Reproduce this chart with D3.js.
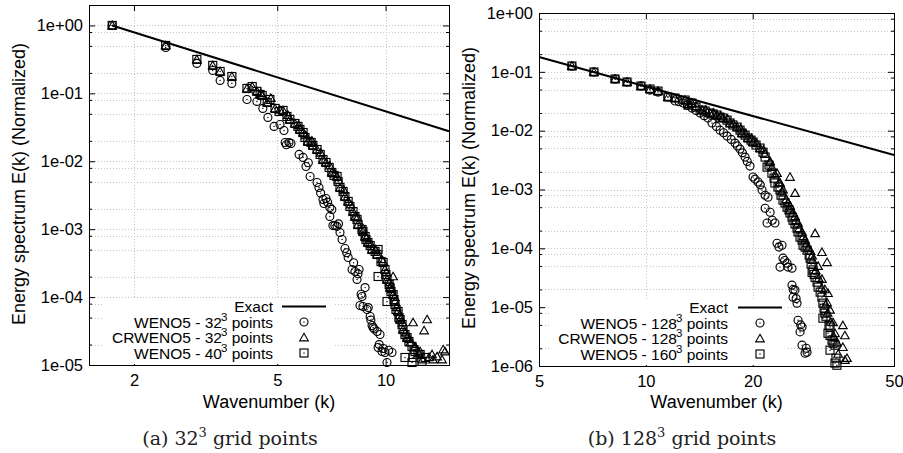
<!DOCTYPE html>
<html>
<head>
<meta charset="utf-8">
<script src="https://cdn.jsdelivr.net/npm/d3@7"></script>
<style>
    body { margin: 0; background: #fff; }
    svg { display: block; }
</style>
</head>
<body>
<div id="chart"></div>
<script>
// Canvas
const width = 903
const height = 453
const sans = "'Liberation Sans', Arial, Helvetica, sans-serif"
const serif = "'DejaVu Serif', 'Liberation Serif', serif"

// ---------- Data: panel (a), 32^3 ----------
const aXTicks = [2, 5, 10]
const aXLabels = ['2', '5', '10']
const aYTicks = [1e-5, 1e-4, 1e-3, 1e-2, 1e-1, 1]
const aYLabels = ['1e-05', '1e-04', '1e-03', '1e-02', '1e-01', '1e+00']
const aExactK = [1.74, 15]
const aExactE = [1.0, 0.0277]

const aWeno32 = [
    [1.74, 1.0], [2.45, 0.474], [2.99, 0.276], [3.31, 0.217], [3.47, 0.155], [3.74, 0.140],
    [4.12, 0.0813], [4.39, 0.076], [4.56, 0.060], [4.71, 0.0442], [4.90, 0.0326], [5.09, 0.0348],
    [5.22, 0.0284], [5.26, 0.0189], [5.39, 0.0189], [5.46, 0.0183], [5.75, 0.0126], [5.90, 0.0114],
    [6.01, 0.00838], [6.17, 0.00597], [6.45, 0.00487], [6.53, 0.00411], [6.70, 0.00274], [6.74, 0.00239],
    [6.83, 0.00283], [7.00, 0.00209], [7.00, 0.00154], [7.09, 0.00195], [7.14, 0.00113], [7.23, 0.00113],
    [7.33, 0.0011], [7.47, 0.000893], [7.57, 0.000705], [7.71, 0.00052], [7.87, 0.000383], [8.07, 0.000255],
    [8.22, 0.000238], [8.33, 0.000182], [8.44, 0.000255], [8.49, 7.52e-5], [8.60, 1.02e-4], [8.65, 7.27e-5],
    [8.77, 1.38e-4], [8.88, 6.57e-5], [9.06, 5.18e-5], [9.17, 3.82e-5], [9.23, 3.57e-5], [9.47, 3.11e-5],
    [9.53, 1.81e-5], [9.65, 2.81e-5], [9.77, 1.58e-5], [9.96, 1.53e-5], [10.09, 1.09e-5], [10.42, 1.53e-5],
    [5.3, 0.0175], [6.1, 0.0095], [6.6, 0.0034], [6.9, 0.0025], [7.4, 0.0012], [7.8, 0.00045],
    [8.15, 0.00032], [8.38, 0.00022], [8.55, 0.00011], [8.95, 7.0e-5], [9.1, 4.6e-5], [9.3, 3.4e-5],
    [9.6, 2.0e-5], [9.85, 1.75e-5], [10.2, 1.65e-5]
]
const aCrweno32 = [
    [1.74, 1.0], [2.45, 0.507], [2.99, 0.316], [3.31, 0.258], [3.47, 0.210], [3.74, 0.177],
    [4.12, 0.118], [4.26, 0.126], [4.39, 0.107], [4.54, 0.0931], [4.69, 0.0734], [4.93, 0.060],
    [5.19, 0.056], [5.42, 0.0413], [5.60, 0.036], [5.78, 0.0294], [5.90, 0.0265], [6.08, 0.0196],
    [6.28, 0.0171], [6.45, 0.0149], [6.70, 0.0106], [6.83, 0.0096], [7.09, 0.00684], [7.33, 0.00597],
    [7.47, 0.00411], [7.71, 0.00303], [7.87, 0.00256], [8.12, 0.00182], [8.22, 0.00154], [8.38, 0.00117],
    [8.65, 0.000925], [8.77, 0.00078], [8.93, 0.000637], [9.17, 0.000502], [9.47, 0.000424], [9.84, 0.000334],
    [10.49, 0.000201], [9.96, 0.000255], [10.09, 0.000182], [10.29, 0.000138], [10.49, 0.000109], [10.62, 8.61e-5],
    [10.83, 6.14e-5], [10.97, 4.68e-5], [11.18, 3.33e-5], [11.47, 2.54e-5], [11.92, 4.23e-5], [11.70, 2.14e-5],
    [12.07, 1.87e-5], [12.47, 1.58e-5], [12.79, 3.22e-5], [13.04, 4.68e-5], [13.46, 1.43e-5], [13.55, 1.2e-5],
    [13.90, 1.33e-5], [14.35, 1.2e-5], [14.45, 1.69e-5], [14.62, 1.58e-5],
    [4.50, 0.10], [4.80, 0.085], [5.08, 0.057], [5.35, 0.048], [5.73, 0.034], [6.0, 0.024],
    [6.24, 0.020], [6.6, 0.0133], [7.0, 0.0086], [7.22, 0.0066], [7.4, 0.0053], [7.65, 0.0038],
    [8.0, 0.0023], [8.36, 0.00148], [8.63, 0.00105], [8.85, 0.00075], [9.1, 0.0006], [9.38, 0.0005],
    [9.75, 0.00036], [10.05, 0.00023], [10.26, 0.000165], [10.4, 0.00013], [10.6, 0.0001], [10.73, 7.1e-5],
    [10.93, 5.4e-5], [11.15, 4.2e-5], [11.36, 3.0e-5], [11.66, 2.4e-5], [12.03, 1.8e-5], [12.35, 1.5e-5],
    [12.66, 1.2e-5], [13.2, 1.3e-5]
]
const aWeno40 = [
    [1.74, 1.0], [2.45, 0.507], [2.99, 0.316], [3.31, 0.258], [3.47, 0.210], [3.74, 0.177],
    [4.12, 0.118], [4.26, 0.126], [4.39, 0.107], [4.54, 0.0931], [4.69, 0.0734], [4.93, 0.060],
    [5.19, 0.056], [5.42, 0.0413], [5.60, 0.036], [5.78, 0.0294], [5.90, 0.0265], [6.08, 0.0196],
    [6.28, 0.0171], [6.45, 0.0149], [6.70, 0.0106], [6.83, 0.0096], [7.09, 0.00684], [7.33, 0.00597],
    [7.47, 0.00411], [7.71, 0.00303], [7.87, 0.00256], [8.12, 0.00182], [8.22, 0.00154], [8.38, 0.00117],
    [8.65, 0.000925], [8.77, 0.00078], [8.93, 0.000637], [9.17, 0.000502], [9.47, 0.000424], [9.53, 0.000502],
    [9.84, 0.000323], [9.53, 0.000201], [9.96, 0.000255], [10.09, 0.000182], [10.09, 8.61e-5], [10.29, 0.000138],
    [10.49, 0.000109], [10.62, 7.78e-5], [10.83, 6.14e-5], [10.97, 4.68e-5], [11.18, 3.33e-5], [11.47, 2.54e-5],
    [11.84, 1.87e-5], [11.32, 1.29e-5], [11.84, 1.09e-5], [11.92, 1.29e-5], [12.07, 1.58e-5], [12.47, 1.43e-5],
    [12.88, 1.29e-5],
    [4.48, 0.0964], [4.77, 0.0813], [5.06, 0.0541], [5.32, 0.0457], [5.71, 0.0326], [5.97, 0.0224],
    [6.21, 0.0189], [6.58, 0.0126], [6.97, 0.0081], [7.19, 0.00618], [7.38, 0.00504], [7.62, 0.00359],
    [7.96, 0.00216], [8.33, 0.00139], [8.60, 0.00099], [8.82, 0.000705], [9.06, 0.000575], [9.35, 0.00047],
    [9.71, 0.000334], [10.02, 0.000215], [10.23, 0.000153], [10.35, 0.000121], [10.55, 9.2e-5], [10.69, 6.57e-5],
    [10.89, 5.0e-5], [11.11, 3.95e-5], [11.32, 2.81e-5], [11.61, 2.22e-5], [11.99, 1.69e-5], [12.30, 1.43e-5],
    [12.62, 1.13e-5]
]

// ---------- Data: panel (b), 128^3 ----------
const bXTicks = [5, 10, 20, 50]
const bXLabels = ['5', '10', '20', '50']
const bYTicks = [1e-6, 1e-5, 1e-4, 1e-3, 1e-2, 1e-1, 1]
const bYLabels = ['1e-06', '1e-05', '1e-04', '1e-03', '1e-02', '1e-01', '1e+00']
const bExactK = [5, 50]
const bExactE = [0.179, 0.00386]

const bWeno128 = [
    [6.19, 0.1255], [7.14, 0.0993], [8.19, 0.0755], [8.85, 0.0671], [9.69, 0.0574], [10.27, 0.049],
    [10.82, 0.0453], [11.54, 0.0373], [12.08, 0.0319], [12.73, 0.0295], [13.48, 0.0242], [14.21, 0.0199],
    [14.96, 0.0164], [15.36, 0.0135], [16.18, 0.0102], [16.93, 0.0081], [17.83, 0.00615], [18.42, 0.00486],
    [19.03, 0.00356], [19.65, 0.0025], [20.04, 0.00163], [20.70, 0.00134], [21.24, 0.00098], [21.67, 0.0008],
    [22.08, 0.00074], [21.67, 0.00048], [22.39, 0.00041], [21.95, 0.00027], [23.10, 0.00027], [23.41, 0.000122],
    [24.18, 0.000113], [24.34, 6.8e-5], [23.87, 4.8e-5], [24.99, 5.6e-5], [25.14, 4.8e-5], [25.80, 4.6e-5],
    [25.80, 2.37e-5], [26.31, 1.95e-5], [25.97, 1.48e-5], [26.66, 1.17e-5], [26.83, 6.0e-6], [27.54, 4.6e-6],
    [27.18, 3.8e-6], [27.54, 2.26e-6], [28.45, 1.72e-6], [28.08, 1.65e-6],
    [12.4, 0.031], [13.1, 0.027], [13.85, 0.022], [14.6, 0.018], [15.8, 0.0118], [16.55, 0.0092],
    [17.4, 0.0071], [18.1, 0.0055], [18.7, 0.0042], [19.3, 0.0030], [20.3, 0.0015], [21.0, 0.0012],
    [22.7, 0.00030], [23.7, 0.000105], [24.6, 6.2e-5], [26.0, 2.0e-5], [26.5, 1.4e-5], [27.3, 5.0e-6],
    [28.3, 2.0e-6]
]
const bCrweno128 = [
    [6.19, 0.1255], [7.14, 0.0993], [8.19, 0.0755], [8.85, 0.0671], [9.69, 0.0574], [10.27, 0.051],
    [10.82, 0.0471], [11.54, 0.0373], [12.08, 0.0358], [12.89, 0.0331], [13.48, 0.0295], [14.39, 0.0224],
    [15.16, 0.0199], [15.86, 0.0184], [16.49, 0.0164], [17.26, 0.0135], [18.07, 0.0115], [18.66, 0.0091],
    [19.40, 0.0075], [20.04, 0.0064], [20.97, 0.00506], [21.67, 0.0040], [22.39, 0.0030], [22.65, 0.0024],
    [23.41, 0.0019], [23.87, 0.0013], [24.34, 0.0010], [25.47, 0.00163], [26.31, 0.00087], [25.14, 0.0006],
    [25.47, 0.00045], [26.31, 0.00035], [26.83, 0.00027], [27.54, 0.00019], [28.08, 0.00014], [29.97, 0.00018],
    [28.64, 0.0001], [29.40, 7.5e-5], [31.33, 8.6e-5], [30.56, 5.0e-5], [31.33, 3.0e-5], [32.39, 5.8e-5],
    [31.94, 2.0e-5], [32.59, 1.73e-5], [32.39, 1.2e-5], [33.02, 9.0e-6], [33.68, 5.5e-6], [35.89, 4.9e-6],
    [34.10, 3.6e-6], [36.36, 3.3e-6], [34.53, 2.5e-6], [35.89, 2.09e-6], [36.86, 1.36e-6], [36.36, 1.26e-6],
    [13.2, 0.028], [13.9, 0.026], [14.75, 0.0225], [15.5, 0.020], [16.25, 0.0178], [17.0, 0.0158],
    [17.65, 0.013], [18.5, 0.0108], [19.1, 0.0089], [19.85, 0.0074], [20.5, 0.0061], [21.45, 0.0047],
    [22.35, 0.0029], [23.1, 0.0018], [23.7, 0.0013], [24.2, 0.00092], [24.85, 0.00068], [25.5, 0.00052],
    [26.0, 0.0004], [26.5, 0.0003], [27.05, 0.00022], [27.8, 0.00016], [28.35, 0.00012], [29.1, 9.0e-5],
    [29.5, 6.3e-5], [30.1, 4.2e-5], [30.7, 3.1e-5], [31.3, 2.1e-5], [32.1, 1.1e-5], [32.5, 8.0e-6],
    [33.2, 5.6e-6], [33.9, 3.1e-6], [34.8, 1.6e-6]
]
const bWeno160 = [
    [6.19, 0.1255], [7.14, 0.0993], [8.19, 0.0755], [8.85, 0.0671], [9.69, 0.0574], [10.27, 0.051],
    [10.82, 0.0471], [11.54, 0.0373], [12.08, 0.0358], [12.89, 0.0331], [13.48, 0.0295], [14.39, 0.0224],
    [15.16, 0.0199], [15.86, 0.0184], [16.49, 0.0164], [17.26, 0.0135], [18.07, 0.0115], [18.66, 0.0091],
    [19.40, 0.0075], [20.04, 0.0064], [20.97, 0.00506], [21.67, 0.00356], [21.95, 0.0024], [22.65, 0.0019],
    [23.10, 0.00129], [23.87, 0.00098], [24.34, 0.00066], [24.99, 0.0005], [25.47, 0.0004], [25.97, 0.0003],
    [26.66, 0.00022], [27.18, 0.000155], [27.72, 0.000113], [28.45, 9.3e-5], [29.02, 6.8e-5], [29.40, 3.9e-5],
    [29.59, 4.3e-5], [29.97, 3.2e-5], [30.56, 2.19e-5], [31.33, 1.48e-5], [31.53, 1.17e-5], [31.53, 6.5e-6],
    [31.94, 7.9e-6], [32.59, 3.6e-6], [33.02, 4.6e-6], [33.02, 3.3e-6], [33.68, 2.44e-6], [34.10, 2.26e-6],
    [33.02, 1.86e-6], [34.10, 1.12e-6], [34.53, 1.03e-6],
    [13.14, 0.0272], [13.84, 0.0252], [14.68, 0.0216], [15.46, 0.0192], [16.18, 0.0170], [16.93, 0.0151],
    [17.59, 0.0125], [18.42, 0.0102], [19.03, 0.0084], [19.78, 0.0069], [20.43, 0.0057], [21.38, 0.0043],
    [22.23, 0.0026], [22.96, 0.00156], [23.56, 0.0011], [24.03, 0.0008], [24.66, 0.00059], [25.31, 0.00045],
    [25.80, 0.00034], [26.31, 0.00026], [26.83, 0.00019], [27.54, 0.000138], [28.08, 0.000105], [28.84, 7.7e-5],
    [29.21, 5.4e-5], [29.78, 3.6e-5], [30.36, 2.66e-5], [30.97, 1.8e-5], [31.77, 9.6e-6], [32.16, 7.0e-6],
    [32.81, 4.9e-6], [33.45, 2.75e-6], [34.32, 1.36e-6]
]

// Panel layout (pixel boxes)
const panels = [
    {
        left: 89, right: 449, top: 5, bottom: 365,
        xDomain: [1.5, 15], yDomain: [1e-5, 2],
        xTicks: aXTicks, xLabels: aXLabels, yTicks: aYTicks, yLabels: aYLabels,
        exactK: aExactK, exactE: aExactE,
        series: [aWeno32, aCrweno32, aWeno40],
        names: ['WENO5 - 32', 'CRWENO5 - 32', 'WENO5 - 40'],
        legendRight: 273, legendTop: 306.5, legendSym: 304, legendLine: [282, 326],
        legendBox: [104, 298, 334, 365],
        yTitle: [25, 184], caption: ['(a) 32', ' grid points', 230]
    },
    {
        left: 539, right: 894, top: 13, bottom: 366,
        xDomain: [5, 50], yDomain: [1e-6, 1],
        xTicks: bXTicks, xLabels: bXLabels, yTicks: bYTicks, yLabels: bYLabels,
        exactK: bExactK, exactE: bExactE,
        series: [bWeno128, bCrweno128, bWeno160],
        names: ['WENO5 - 128', 'CRWENO5 - 128', 'WENO5 - 160'],
        legendRight: 728, legendTop: 307.5, legendSym: 760, legendLine: [738, 782],
        legendBox: [550, 299, 786, 366],
        yTitle: [475, 188], caption: ['(b) 128', ' grid points', 682]
    }
]

const svg = d3.select('#chart')
    .append('svg')
    .attr('width', width)
    .attr('height', height)
    .style('background', '#fff')

// Marker shapes: 0 circle, 1 triangle, 2 square
const ink = '#000'
const markStroke = 1.15
function drawMarker(sel, type) {
    if (type === 0) {
        sel.append('circle').attr('r', 4).attr('fill', 'none').attr('stroke', ink).attr('stroke-width', markStroke)
        sel.append('circle').attr('r', 0.7).attr('fill', ink)
    } else if (type === 1) {
        sel.append('path').attr('d', 'M0,-4.2L4.3,3.3L-4.3,3.3Z')
            .attr('fill', 'none').attr('stroke', ink).attr('stroke-width', markStroke)
    } else {
        sel.append('rect').attr('x', -4).attr('y', -4).attr('width', 8).attr('height', 8)
            .attr('fill', 'none').attr('stroke', ink).attr('stroke-width', markStroke)
        sel.append('circle').attr('r', 0.7).attr('fill', ink)
    }
}

const multiples = [2, 5, 8]

panels.forEach(p => {
    const g = svg.append('g')
    const x = d3.scaleLog().domain(p.xDomain).range([p.left, p.right])
    const y = d3.scaleLog().domain(p.yDomain).range([p.bottom, p.top])

    // minor y positions: 2, 5, 8 times each decade
    const yMinor = []
    p.yTicks.forEach(t => multiples.forEach(m => {
        const v = t * m
        if (v < p.yDomain[1]) yMinor.push(v)
    }))

    // Grid
    const grid = g.append('g')
        .attr('stroke', '#c4c4c4')
        .attr('stroke-width', 1)
        .attr('stroke-dasharray', '1,2')
    grid.selectAll('.hg')
        .data(p.yTicks.concat(yMinor).filter(v => y(v) > p.top + 1 && y(v) < p.bottom - 1))
        .join('line')
        .attr('x1', p.left).attr('x2', p.right)
        .attr('y1', d => Math.round(y(d)) + 0.5).attr('y2', d => Math.round(y(d)) + 0.5)
    grid.selectAll('.vg')
        .data(p.xTicks.filter(v => x(v) > p.left + 1 && x(v) < p.right - 1))
        .join('line')
        .attr('y1', p.top).attr('y2', p.bottom)
        .attr('x1', d => Math.round(x(d)) + 0.5).attr('x2', d => Math.round(x(d)) + 0.5)

    // Axes (ticks inward, mirrored)
    const yAxis = d3.axisLeft(y).tickValues(p.yTicks)
        .tickFormat((d, i) => p.yLabels[i])
        .tickSizeInner(-6).tickSizeOuter(0).tickPadding(6)
    const yAxisG = g.append('g').attr('transform', `translate(${p.left},0)`).call(yAxis)
    g.append('g').attr('transform', `translate(${p.left},0)`)
        .call(d3.axisLeft(y).tickValues(yMinor).tickFormat('').tickSizeInner(-3).tickSizeOuter(0))
    g.append('g').attr('transform', `translate(${p.right},0)`)
        .call(d3.axisRight(y).tickValues(p.yTicks).tickFormat('').tickSizeInner(-6).tickSizeOuter(0))
    g.append('g').attr('transform', `translate(${p.right},0)`)
        .call(d3.axisRight(y).tickValues(yMinor).tickFormat('').tickSizeInner(-3).tickSizeOuter(0))

    const xAxis = d3.axisBottom(x).tickValues(p.xTicks)
        .tickFormat((d, i) => p.xLabels[i])
        .tickSizeInner(-6).tickSizeOuter(0).tickPadding(9)
    const xAxisG = g.append('g').attr('transform', `translate(0,${p.bottom})`).call(xAxis)
    g.append('g').attr('transform', `translate(0,${p.top})`)
        .call(d3.axisTop(x).tickValues(p.xTicks).tickFormat('').tickSizeInner(-6).tickSizeOuter(0))

    g.selectAll('.domain').remove()
    g.selectAll('.tick line').attr('stroke', '#000')
    ;[yAxisG, xAxisG].forEach(a => a.selectAll('text')
        .style('font-family', sans)
        .style('font-size', '16.5px')
        .attr('fill', '#000'))

    // Exact k^-5/3 line
    const exact = p.exactK.map((k, i) => [k, p.exactE[i]])
    g.append('path').datum(exact)
        .attr('d', d3.line().x(d => x(d[0])).y(d => y(d[1])))
        .attr('fill', 'none')
        .attr('stroke', '#000')
        .attr('stroke-width', 2)

    // Scatter series
    p.series.forEach((s, si) => {
        g.append('g').selectAll('g')
            .data(s)
            .join('g')
            .attr('transform', d => `translate(${x(d[0])},${y(d[1])})`)
            .each(function() { drawMarker(d3.select(this), si) })
    })

    // Legend (opaque box)
    const lb = p.legendBox
    g.append('rect')
        .attr('x', lb[0]).attr('y', lb[1])
        .attr('width', lb[2] - lb[0]).attr('height', lb[3] - lb[1] - 1)
        .attr('fill', '#fff')
    const rowH = 15.5
    const leg = g.append('g')
        .style('font-family', sans)
        .style('font-size', '15.5px')
    leg.append('text')
        .attr('x', p.legendRight).attr('y', p.legendTop + 5.5)
        .attr('text-anchor', 'end')
        .text('Exact')
    leg.append('line')
        .attr('x1', p.legendLine[0]).attr('x2', p.legendLine[1])
        .attr('y1', p.legendTop).attr('y2', p.legendTop)
        .attr('stroke', '#000').attr('stroke-width', 2)
    p.names.forEach((n, i) => {
        const cy = p.legendTop + rowH * (i + 1)
        const t = leg.append('text')
            .attr('x', p.legendRight).attr('y', cy + 5.5)
            .attr('text-anchor', 'end')
        t.append('tspan').text(n)
        t.append('tspan').attr('dy', -7).attr('dx', -1).style('font-size', '11.5px').text('3')
        t.append('tspan').attr('dy', 7).text(' points')
        drawMarker(leg.append('g').attr('transform', `translate(${p.legendSym},${cy})`), i)
    })

    // Plot border
    g.append('rect')
        .attr('x', p.left + 0.5).attr('y', p.top + 0.5)
        .attr('width', p.right - p.left).attr('height', p.bottom - p.top)
        .attr('fill', 'none').attr('stroke', '#000').attr('stroke-width', 1)

    // Axis titles
    g.append('text')
        .attr('x', (p.left + p.right) / 2).attr('y', 408)
        .attr('text-anchor', 'middle')
        .style('font-family', sans).style('font-size', '18px')
        .text('Wavenumber (k)')
    g.append('text')
        .attr('transform', `translate(${p.yTitle[0]},${p.yTitle[1]}) rotate(-90)`)
        .attr('text-anchor', 'middle')
        .style('font-family', sans).style('font-size', '18px')
        .text('Energy spectrum E(k) (Normalized)')

    // Caption
    const cap = g.append('text')
        .attr('x', p.caption[2]).attr('y', 445)
        .attr('text-anchor', 'middle')
        .style('font-family', serif).style('font-size', '19px')
        .attr('fill', '#222')
    cap.append('tspan').text(p.caption[0])
    cap.append('tspan').attr('dy', -8).style('font-size', '13px').text('3')
    cap.append('tspan').attr('dy', 8).text(p.caption[1])
})
</script>
</body>
</html>
